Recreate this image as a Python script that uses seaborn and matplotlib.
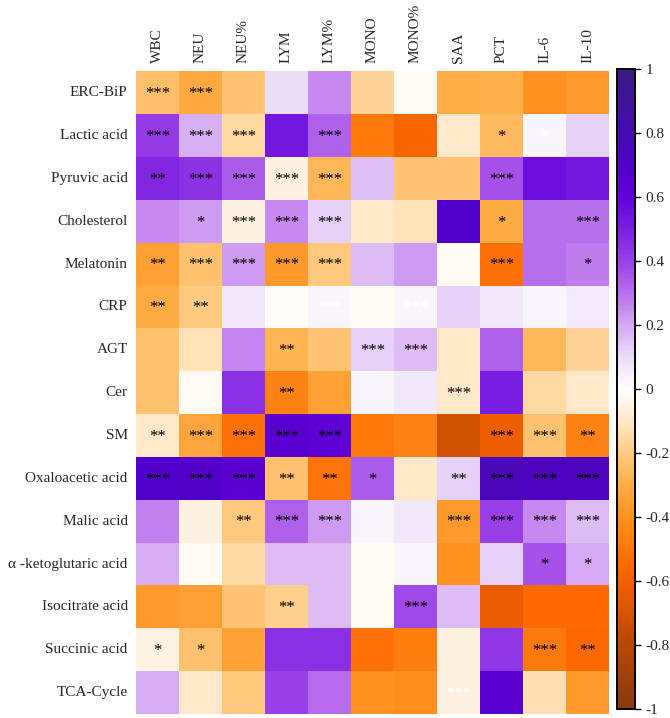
import numpy as np
import pandas as pd
import matplotlib
matplotlib.use('Agg')
import matplotlib.pyplot as plt
import seaborn as sns
from matplotlib.colors import LinearSegmentedColormap

# ---- data ----
metabolites = ['ERC-BiP', 'Lactic acid', 'Pyruvic acid', 'Cholesterol', 'Melatonin', 'CRP',
               'AGT', 'Cer', 'SM', 'Oxaloacetic acid', 'Malic acid', 'α -ketoglutaric acid',
               'Isocitrate acid', 'Succinic acid', 'TCA-Cycle']
markers = ['WBC', 'NEU', 'NEU%', 'LYM', 'LYM%', 'MONO', 'MONO%', 'SAA', 'PCT', 'IL-6', 'IL-10']

corr = [
    [-0.24, -0.32, -0.22, 0.10, 0.25, -0.17, -0.02, -0.30, -0.29, -0.40, -0.37],
    [0.42, 0.18, -0.15, 0.53, 0.33, -0.50, -0.58, -0.10, -0.26, 0.03, 0.12],
    [0.48, 0.44, 0.34, -0.06, -0.27, 0.15, -0.22, -0.22, 0.36, 0.56, 0.53],
    [0.25, 0.22, -0.06, 0.25, 0.12, -0.10, -0.12, 0.70, -0.31, 0.30, 0.30],
    [-0.35, -0.23, 0.22, -0.37, -0.21, 0.16, 0.22, -0.02, -0.52, 0.30, 0.28],
    [-0.31, -0.20, 0.07, -0.01, 0.03, -0.02, 0.03, 0.12, 0.07, 0.03, 0.06],
    [-0.23, -0.12, 0.26, -0.28, -0.22, 0.12, 0.16, -0.10, 0.33, -0.27, -0.17],
    [-0.23, -0.02, 0.45, -0.46, -0.35, 0.03, 0.07, -0.10, 0.50, -0.15, -0.10],
    [-0.10, -0.33, -0.52, 0.65, 0.63, -0.50, -0.46, -0.72, -0.62, -0.23, -0.46],
    [0.70, 0.68, 0.64, -0.23, -0.51, 0.34, -0.10, 0.12, 0.76, 0.74, 0.74],
    [0.27, -0.06, -0.21, 0.33, 0.22, 0.03, 0.07, -0.37, 0.40, 0.25, 0.16],
    [0.19, -0.02, -0.15, 0.16, 0.16, -0.02, 0.03, -0.40, 0.12, 0.36, 0.20],
    [-0.37, -0.35, -0.22, -0.18, 0.16, -0.02, 0.38, 0.16, -0.64, -0.55, -0.55],
    [-0.05, -0.23, -0.35, 0.45, 0.45, -0.52, -0.48, -0.06, 0.43, -0.49, -0.56],
    [0.19, -0.10, -0.21, 0.40, 0.31, -0.40, -0.41, -0.06, 0.66, -0.13, -0.37],
]

stars = [
    ['***', '***', '', '', '', '', '', '', '', '', ''],
    ['***', '***', '***', '', '***', '', '', '', '*', '*', ''],
    ['**', '***', '***', '***', '***', '', '', '', '***', '', ''],
    ['', '*', '***', '***', '***', '', '', '', '*', '', '***'],
    ['**', '***', '***', '***', '***', '', '', '', '***', '', '*'],
    ['**', '**', '', '**', '***', '***', '***', '', '', '', ''],
    ['', '', '', '**', '', '***', '***', '', '', '', ''],
    ['', '', '', '**', '', '', '', '***', '', '', ''],
    ['**', '***', '***', '***', '***', '', '', '', '***', '***', '**'],
    ['***', '***', '***', '**', '**', '*', '', '**', '***', '***', '***'],
    ['', '', '**', '***', '***', '', '', '***', '***', '***', '***'],
    ['', '', '', '', '', '', '', '', '', '*', '*'],
    ['', '', '', '**', '', '', '***', '', '', '', ''],
    ['*', '*', '', '', '', '', '', '', '', '***', '**'],
    ['', '', '', '', '', '', '', '***', '', '', ''],
]

# cells whose stars are printed in white (row, col)
white_stars = [(1, 9), (5, 3), (5, 4), (5, 5), (5, 6), (14, 7)]

cbar_ticks = [1, 0.8, 0.6, 0.4, 0.2, 0, -0.2, -0.4, -0.6, -0.8, -1]
cbar_labels = ['1', '0.8', '0.6', '0.4', '0.2', '0', '-0.2', '-0.4', '-0.6', '-0.8', '-1']

df = pd.DataFrame(corr, index=metabolites, columns=markers)
annot = np.array(stars)

# orange -> white -> purple colour scale
cmap = LinearSegmentedColormap.from_list('orpu', [
    (0.000, '#8B3A0F'), (0.100, '#B84800'), (0.175, '#E85A00'), (0.225, '#FF6A00'),
    (0.290, '#FF8C1A'), (0.350, '#FFAE48'), (0.400, '#FFCA80'), (0.450, '#FFE8C8'),
    (0.500, '#FFFFFF'), (0.550, '#EADCF8'), (0.600, '#D4A8F2'), (0.650, '#B870EC'),
    (0.700, '#9A40E8'), (0.750, '#7A20E0'), (0.800, '#6400DC'), (0.850, '#5000C8'),
    (0.925, '#4410A8'), (1.000, '#3A1A80')])

sns.set_style('white')
plt.rcParams['font.family'] = ['Liberation Serif', 'DejaVu Serif']

fig = plt.figure(figsize=(6.70, 7.18), dpi=100)
ax = fig.add_axes([0.203, 0.0056, 0.706, 0.895])
cax = fig.add_axes([0.921, 0.013, 0.027, 0.891])

sns.heatmap(df, ax=ax, cbar_ax=cax, cmap=cmap, vmin=-1, vmax=1,
            annot=annot, fmt='', annot_kws={'fontsize': 12, 'color': 'black'},
            linewidths=0, square=False)

for t in ax.texts:
    x, y = t.get_position()
    if (int(y), int(x)) in white_stars:
        t.set_color('white')
    t.set_y(y + 0.03)

ax.xaxis.tick_top()
ax.set_xticklabels(markers, rotation=90, fontsize=11)
ax.set_yticklabels(metabolites, rotation=0, fontsize=11)
ax.tick_params(length=0, pad=6)
ax.set_xlabel('')
ax.set_ylabel('')

cax.set_yticks(cbar_ticks)
cax.set_yticklabels(cbar_labels, fontsize=11)
cax.tick_params(length=4, width=1, color='black', direction='out')
for s in cax.spines.values():
    s.set_visible(True)
    s.set_color('black')
    s.set_linewidth(1.2)

plt.savefig('out.png', dpi=100)
print("saved")
